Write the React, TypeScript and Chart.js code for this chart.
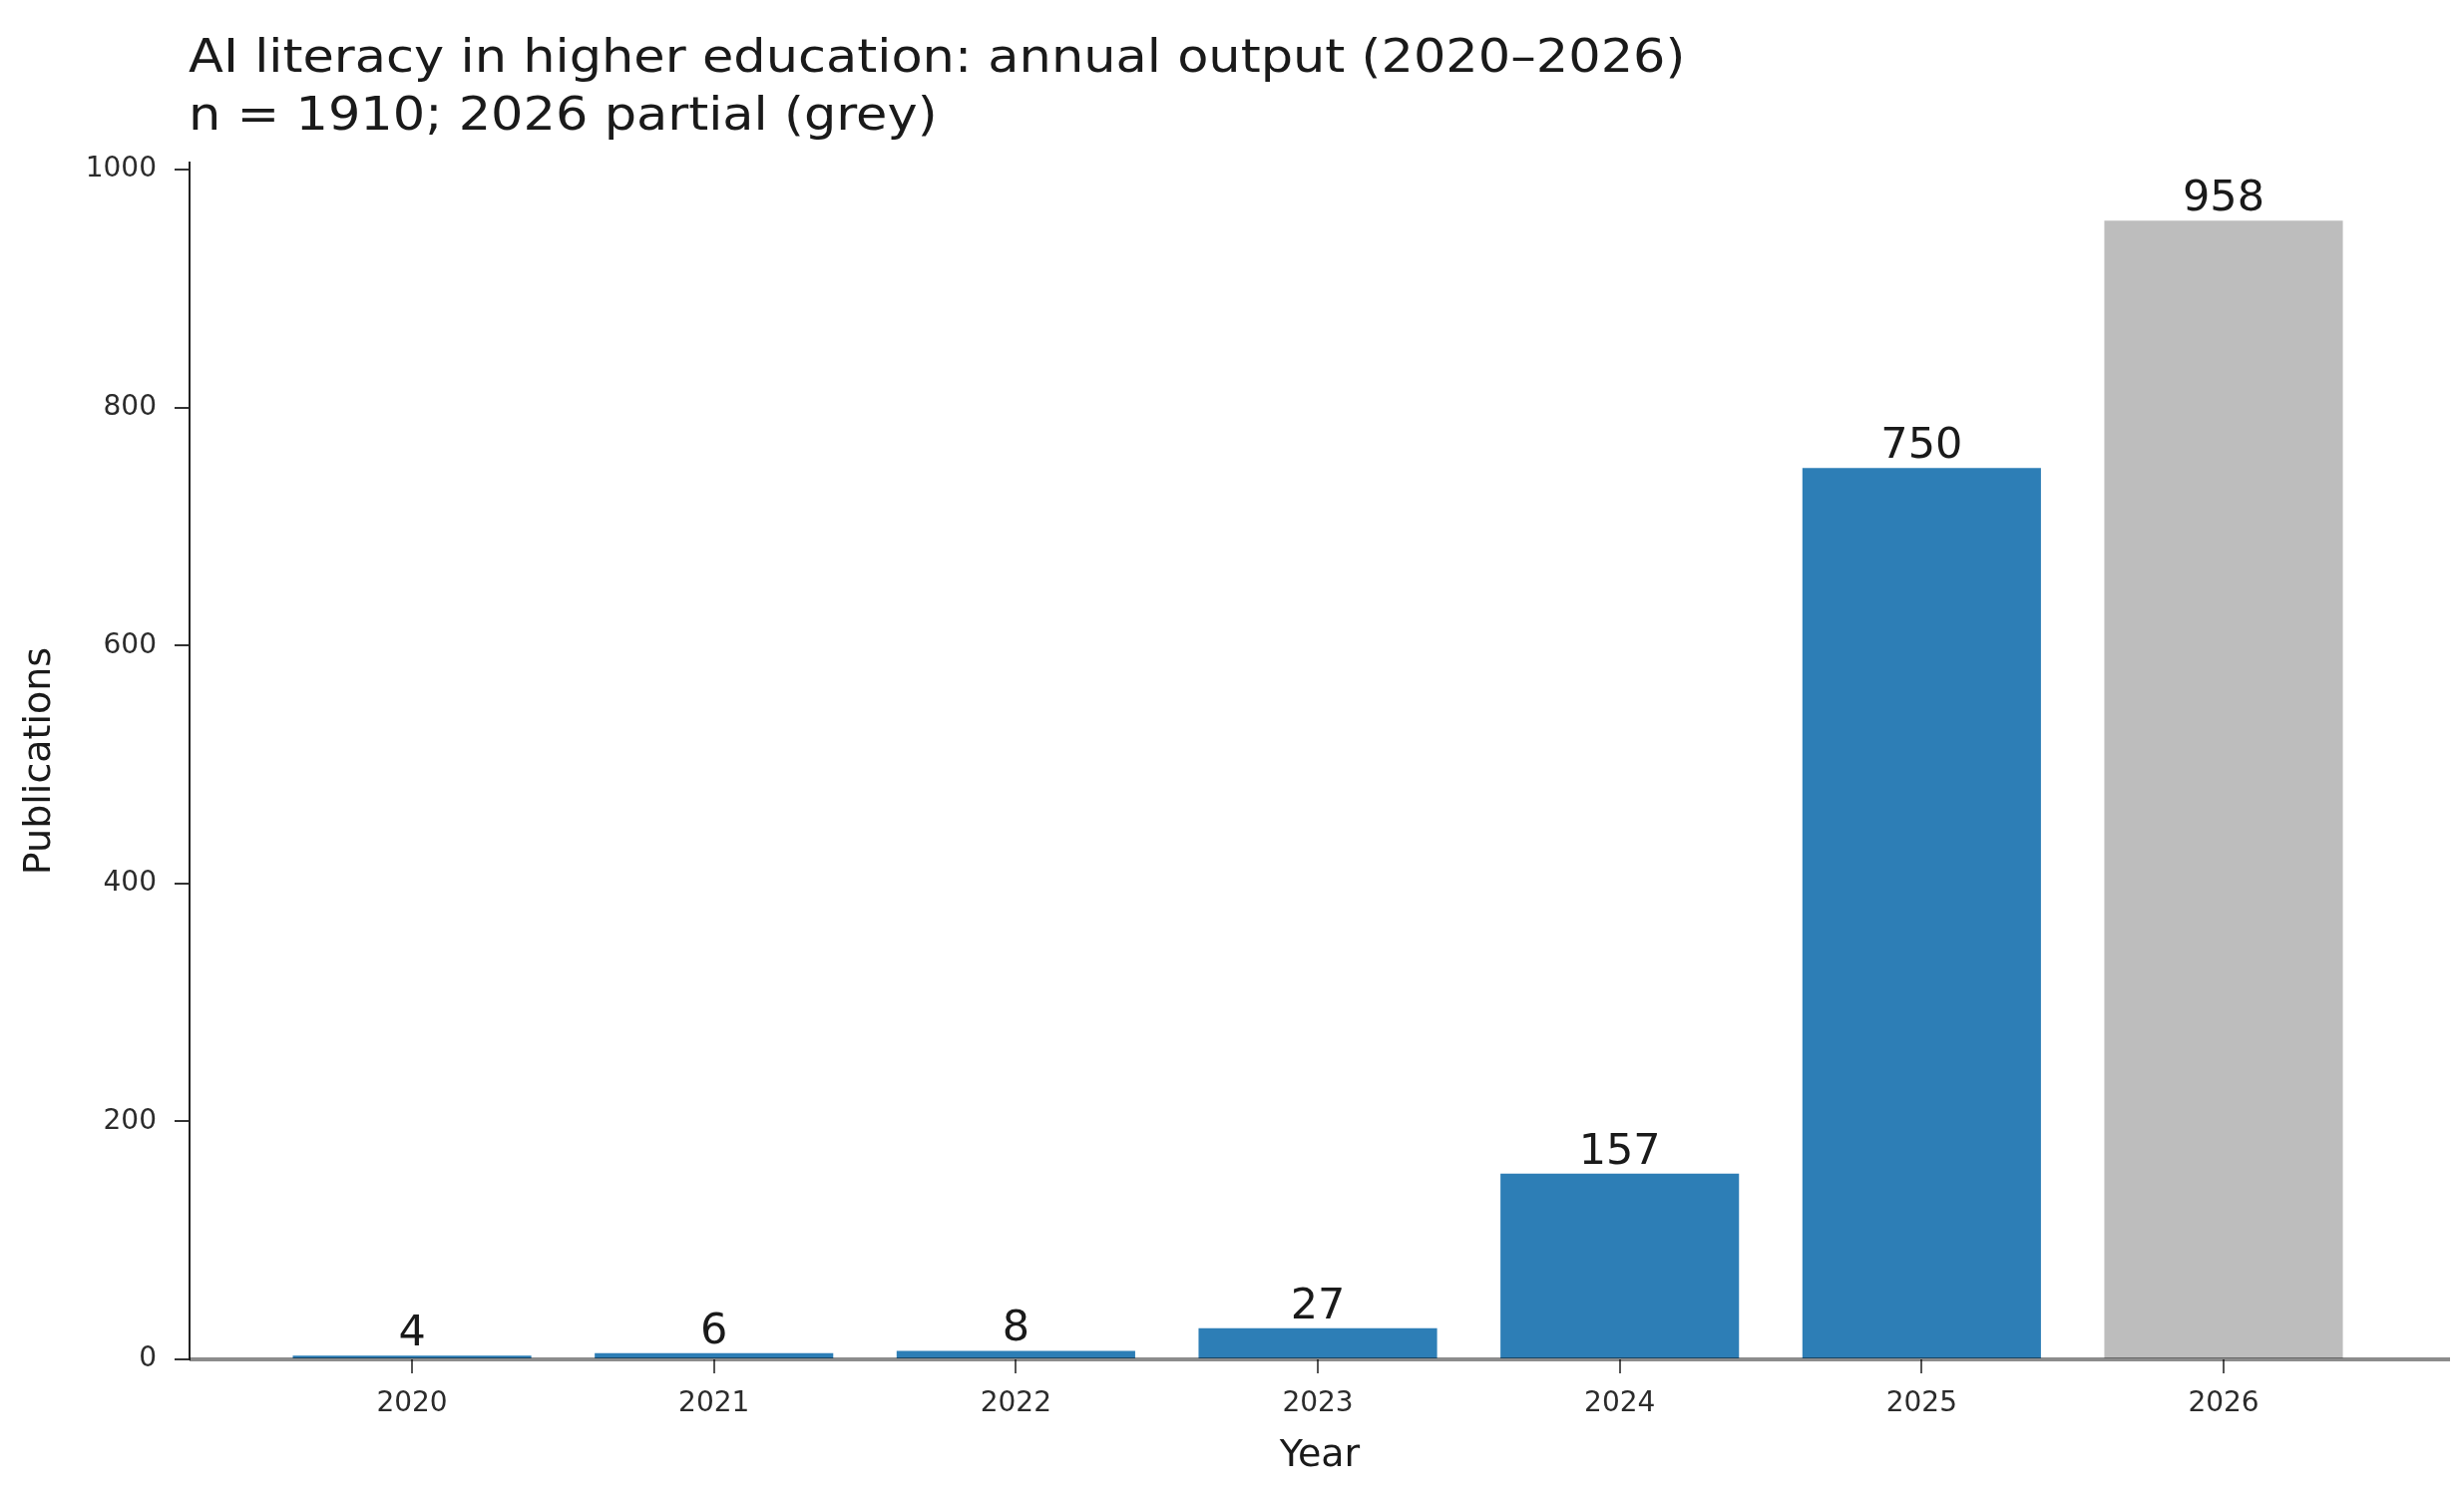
import React, { useEffect, useRef } from "react";
import { Chart, registerables } from "chart.js";

Chart.register(...registerables);

const years: number[] = [2020, 2021, 2022, 2023, 2024, 2025, 2026];
const publications: number[] = [4, 6, 8, 27, 157, 750, 958];
const partialYear: boolean[] = [false, false, false, false, false, false, true];
const yTickValues: number[] = [0, 200, 400, 600, 800, 1000];
const titleLines: string[] = [
  "AI literacy in higher education: annual output (2020\u20132026)",
  "n = 1910; 2026 partial (grey)",
];
const xAxisTitle = "Year";
const yAxisTitle = "Publications";

const FULL_COLOR = "#2d7eb6";
const PARTIAL_COLOR = "#bdbdbd";
const FONT = "'DejaVu Sans', sans-serif";

const W = 2470;
const H = 1506;

export default function App() {
  const ref = useRef<HTMLCanvasElement | null>(null);

  useEffect(() => {
    if (!ref.current) return;

    const titlePlugin = {
      id: "customTitle",
      afterDraw(chart: any) {
        const { ctx, chartArea } = chart;
        ctx.save();
        ctx.fillStyle = "#1a1a1a";
        ctx.font = `47px ${FONT}`;
        ctx.textAlign = "left";
        ctx.textBaseline = "alphabetic";
        titleLines.forEach((line, i) => {
          ctx.save();
          ctx.translate(chartArea.left - 1, 72 + i * 58);
          ctx.scale(1.085, 1);
          ctx.fillText(line, 0, 0);
          ctx.restore();
        });
        ctx.restore();
      },
    };

    const baselinePlugin = {
      id: "baselineAndLabels",
      afterDatasetsDraw(chart: any) {
        const { ctx, chartArea, scales } = chart;
        const y0 = scales.y.getPixelForValue(0);
        ctx.save();
        ctx.strokeStyle = "rgba(0,0,0,0.45)";
        ctx.lineWidth = 4;
        ctx.beginPath();
        ctx.moveTo(chartArea.left, y0);
        ctx.lineTo(chartArea.right, y0);
        ctx.stroke();

        const meta = chart.getDatasetMeta(0);
        ctx.fillStyle = "#1a1a1a";
        ctx.font = `43px ${FONT}`;
        ctx.textAlign = "center";
        ctx.textBaseline = "alphabetic";
        meta.data.forEach((el: any, i: number) => {
          ctx.fillText(String(publications[i]), el.x, el.y - 9);
        });
        ctx.restore();
      },
    };

    const chart = new Chart(ref.current, {
      type: "bar",
      data: {
        datasets: [
          {
            data: years.map((yr, i) => ({ x: yr, y: publications[i] })),
            backgroundColor: partialYear.map((p) => (p ? PARTIAL_COLOR : FULL_COLOR)),
            borderColor: "rgba(255,255,255,0.6)",
            borderWidth: { top: 1, left: 1.5, right: 1.5, bottom: 0 },
            borderSkipped: false,
            barPercentage: 1,
            categoryPercentage: 0.8,
          } as any,
        ],
      },
      options: {
        animation: false,
        responsive: false,
        devicePixelRatio: 1,
        layout: { padding: { top: 163, right: 14, left: 0, bottom: 0 } },
        plugins: {
          legend: { display: false },
          tooltip: { enabled: false },
          title: { display: false },
        },
        scales: {
          x: {
            type: "linear",
            offset: false,
            min: 2019.263,
            max: 2026.75,
            afterBuildTicks: (axis: any) => {
              axis.ticks = years.map((v) => ({ value: v }));
            },
            afterFit: (axis: any) => {
              axis.height = H - 1363;
            },
            grid: {
              offset: false,
              drawOnChartArea: false,
              drawTicks: true,
              tickLength: 14,
              color: "#555",
              lineWidth: 2,
            },
            border: { display: false },
            ticks: {
              autoSkip: false,
              maxRotation: 0,
              padding: 14,
              color: "#2b2b2b",
              font: { family: FONT, size: 28 },
              callback: (v: any) => String(v),
            },
            title: {
              display: true,
              text: xAxisTitle,
              color: "#1a1a1a",
              font: { family: FONT, size: 38 },
              padding: { top: 0, bottom: 23 },
            },
          },
          y: {
            type: "linear",
            min: 0,
            max: 958 * 1.05,
            afterBuildTicks: (axis: any) => {
              axis.ticks = yTickValues.map((v) => ({ value: v }));
            },
            afterFit: (axis: any) => {
              axis.width = 190;
            },
            grid: {
              drawOnChartArea: false,
              drawTicks: true,
              tickLength: 15,
              color: "#333",
              lineWidth: 2,
            },
            border: { display: true, color: "#222", width: 2 },
            ticks: {
              padding: 18,
              color: "#2b2b2b",
              font: { family: FONT, size: 28 },
              callback: (v: any) => String(v),
            },
            title: {
              display: true,
              text: yAxisTitle,
              color: "#1a1a1a",
              font: { family: FONT, size: 38 },
              padding: { top: 17, bottom: 0 },
            },
          },
        },
      } as any,
      plugins: [titlePlugin, baselinePlugin],
    });

    return () => chart.destroy();
  }, []);

  return (
    <div style={{ position: "absolute", left: 0, top: 0, width: W, height: H, background: "#fff" }}>
      <canvas ref={ref} width={W} height={H} style={{ width: W, height: H, display: "block" }} />
    </div>
  );
}
